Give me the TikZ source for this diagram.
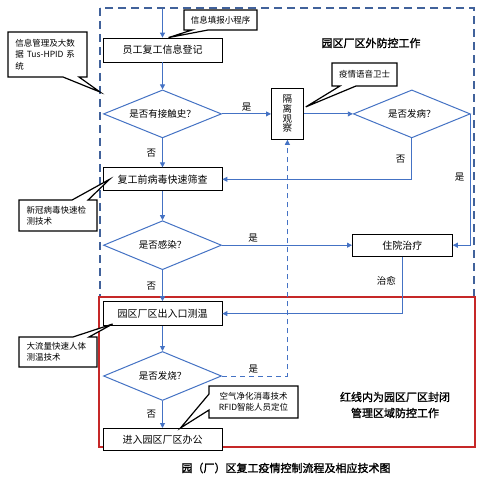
\documentclass[tikz,border=0pt]{standalone}
\usepackage{fontspec}
\setmainfont{Noto Sans CJK SC}[AutoFakeBold=1.5]
\usepackage{tikz}
\usetikzlibrary{arrows.meta,calc,positioning,shapes.geometric,shapes.callouts}
\definecolor{flowblue}{HTML}{4472C4}
\definecolor{zoneblue}{HTML}{41629B}
\definecolor{zonered}{HTML}{C62828}
\tikzset{
  stepbox/.style={
    draw=black,
    fill=white,
    line width=.8pt,
    minimum width=119pt,
    minimum height=23pt,
    inner sep=0pt,
    font=\fontsize{10}{12}\selectfont
  },
  checkbox/.style={
    diamond,
    draw=flowblue,
    fill=white,
    aspect=2.5,
    line width=1pt,
    minimum width=118pt,
    minimum height=48pt,
    inner sep=0pt,
    font=\fontsize{9.5}{11}\selectfont
  },
  notebox/.style={
    rectangle callout,
    draw=black,
    fill=white,
    line width=1.2pt,
    callout pointer width=16pt,
    inner sep=3pt,
    align=center,
    font=\fontsize{8.5}{11.5}\selectfont
  },
  flow/.style={
    -{Triangle[length=5pt,width=5pt]},
    line width=.9pt,
    draw=flowblue
  },
  dashflow/.style={flow, dash pattern=on 5pt off 4pt},
  branchlabel/.style={font=\fontsize{9.5}{11}\selectfont, inner sep=2pt},
  zoneline/.style={draw=zoneblue, line width=1.3pt, dash pattern=on 8pt off 5pt},
  redline/.style={draw=zonered, line width=1.3pt},
  zonetext/.style={font=\bfseries\fontsize{11}{16}\selectfont, align=center}
}

\begin{document}
\begin{tikzpicture}[x=1pt, y=-1pt]
  \useasboundingbox (0,0) rectangle (500,478);

  % zones
  \draw[zoneline] (100,8) rectangle (474,297);
  \draw[redline] (99,297) rectangle (475,447);
  \node[zonetext] (outertitle) at (371,43) {园区厂区外防控工作};
  \node[zonetext] (innertitle) at (395,405) {红线内为园区厂区封闭\\管理区域防控工作};

  % main column
  \node[stepbox, minimum height=24pt] (reg) at (162.5,50) {员工复工信息登记};
  \node[checkbox, below=27pt of reg] (contact) {是否有接触史？};
  \node[stepbox, below=29pt of contact] (screen) {复工前病毒快速筛查};
  \node[checkbox, below=29pt of screen, minimum height=49pt] (infect) {是否感染？};
  \node[stepbox, below=31pt of infect, minimum height=24pt] (gate) {园区厂区出入口测温};
  \node[checkbox, below=25pt of gate, minimum height=49pt] (fever) {是否发烧？};
  \node[stepbox, below=27pt of fever, minimum height=22pt] (office) {进入园区厂区办公};

  % right side
  \node[stepbox, right=49pt of contact, minimum width=32pt, minimum height=51pt,
        align=center, font=\fontsize{9.5}{9.7}\selectfont] (isolate) {隔\\离\\观\\察};
  \node[checkbox, right=49pt of isolate, minimum width=117pt] (onset) {是否发病？};
  \node[stepbox, right=130pt of infect, minimum width=100pt, minimum height=22pt] (hosp) {住院治疗};

  \coordinate (entry) at (162.5,9);
  \coordinate (hpidtip) at (100,92);

  \draw[flow] (entry) -- (reg);
  \draw[flow] (reg) -- (contact);
  \draw[flow] (contact) -- node[branchlabel, left=4pt] {否} (screen);
  \draw[flow] (screen) -- (infect);
  \draw[flow] (infect) -- node[branchlabel, left=4pt] {否} (gate);
  \draw[flow] (gate) -- (fever);
  \draw[flow] (fever) -- node[branchlabel, left=4pt] {否} (office);

  \draw[flow] (contact) -- node[branchlabel, above] {是} (isolate);
  \draw[flow] (isolate) -- (onset);
  \draw[flow] (onset.south) |- node[branchlabel, pos=.25, left=4pt] {否} (screen.east);
  \draw[flow] (onset.east) |- node[branchlabel, pos=.24, left=4pt] {是} (hosp.east);
  \draw[flow] (infect) -- node[branchlabel, pos=.24, above] {是} (hosp);
  \draw[flow] (hosp.south) |- node[branchlabel, pos=.21, left=4pt] {治愈} (gate.east);
  \draw[dashflow] (fever.east) -| node[branchlabel, pos=.24, above] {是} (isolate.south);

  % technology notes
  \node[notebox, minimum width=73pt, minimum height=20pt,
        callout absolute pointer={($(reg.north)+(6,0)$)}] (app) at (220.5,20) {信息填报小程序};
  \node[notebox, align=left, text width=64pt, inner xsep=7.5pt, minimum height=45pt,
        callout absolute pointer={(hpidtip)}] (hpid) at (47.5,54.5)
    {信息管理及大数\\据 Tus-HPID 系\\统};
  \node[notebox, align=left, text width=63pt, inner xsep=7.5pt, minimum height=31pt,
        callout absolute pointer={($(screen.west)+(7,0)$)}] (virus) at (58,215.5)
    {新冠病毒快速检\\测技术};
  \node[notebox, align=left, text width=63pt, inner xsep=7.5pt, minimum height=30pt,
        callout absolute pointer={($(gate.south west)+(10,-2)$)}] (temp) at (58,352)
    {大流量快速人体\\测温技术};
  \node[notebox, minimum width=65pt, minimum height=23pt,
        callout absolute pointer={($(isolate.east)+(2,-7)$)}] (guard) at (364.5,74.5) {疫情语音卫士};
  \node[notebox, minimum width=89pt, minimum height=32pt, font=\fontsize{8.5}{10.5}\selectfont,
        callout absolute pointer={($(office.north)+(18,0)$)}] (clean) at (253.5,402)
    {空气净化消毒技术\\RFID智能人员定位};

  \node[font=\bfseries\fontsize{11}{13}\selectfont] (caption) at (286,468)
    {园（厂）区复工疫情控制流程及相应技术图};
\end{tikzpicture}
\end{document}
